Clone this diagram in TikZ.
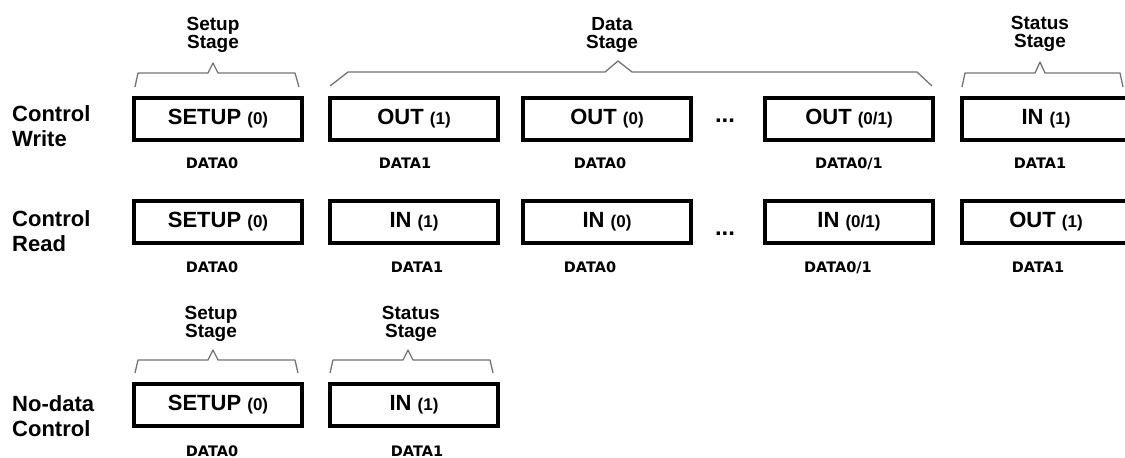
\documentclass[tikz,border=0pt]{standalone}
\usepackage{fontspec}
\setmainfont{Liberation Sans}
\newfontfamily\datafont{DejaVu Sans}
\usetikzlibrary{positioning}
\newcommand{\pid}[2]{\fontsize{22}{22}\selectfont #1 {\fontsize{17}{17}\selectfont (#2)}}

\begin{document}
\begin{tikzpicture}[x=1pt,y=-1pt,font=\bfseries,
  pkt/.style={draw,line width=4.5pt,minimum width=168,minimum height=42,inner sep=0pt},
  toggle/.style={inner sep=0pt,text height=10.5pt,text depth=0pt,font=\datafont\bfseries\fontsize{14.5}{15}\selectfont},
  rowlbl/.style={anchor=west,align=left,inner sep=0pt,font=\bfseries\fontsize{22}{25}\selectfont},
  stagelbl/.style={align=center,inner sep=0pt,font=\bfseries\fontsize{19}{18}\selectfont},
  brc/.style={draw=black!55,line width=1.3pt,line join=round}]
  \useasboundingbox (0,0) rectangle (1125,458);
  % transfer types
  \node[rowlbl] (wr) at (12,126) {Control\\Write};
  \node[rowlbl] (rd) at (12,231) {Control\\Read};
  \node[rowlbl] (nd) at (12,416) {No-data\\Control};
  % packets: box x / pid / toggle / data label / label x
  \foreach \x/\p/\n/\d/\dx [count=\i] in {218/SETUP/0/DATA0/212, 414/OUT/1/DATA1/405, 607/OUT/0/DATA0/600, 849/OUT/{0/1}/{DATA0/1}/849, 1046/IN/1/DATA1/1040} { \node[pkt] (w\i) at (\x,119) {\pid{\p}{\n}}; \node[toggle] (dw\i) at (\dx,163) {\d}; }
  \foreach \x/\p/\n/\d/\dx [count=\i] in {218/SETUP/0/DATA0/212, 414/IN/1/DATA1/417, 607/IN/0/DATA0/590, 849/IN/{0/1}/{DATA0/1}/838, 1046/OUT/1/DATA1/1038} { \node[pkt] (r\i) at (\x,222) {\pid{\p}{\n}}; \node[toggle] (dr\i) at (\dx,267) {\d}; }
  \foreach \x/\p/\n/\d/\dx [count=\i] in {218/SETUP/0/DATA0/212, 414/IN/1/DATA1/417} { \node[pkt] (n\i) at (\x,405) {\pid{\p}{\n}}; \node[toggle] (dn\i) at (\dx,451) {\d}; }
  \node[font=\bfseries\fontsize{24}{24}\selectfont] (wdots) at (725,121) {...};
  \node[font=\bfseries\fontsize{24}{24}\selectfont] (rdots) at (725,234) {...};
  % stage braces
  \draw[brc] (135,87) -- (138,73) -- (208,73) -- (213,63) -- (218,73) -- (295,73) -- (299,87);
  \draw[brc] (330,86) -- (348,72) -- (605,72) -- (618,61) -- (632,72) -- (917,72) -- (932,86);
  \draw[brc] (962,87) -- (965,73) -- (1035,73) -- (1040,62) -- (1045,73) -- (1120,73) -- (1123,87);
  \draw[brc] (135,373) -- (138,360) -- (208,360) -- (213,350) -- (218,360) -- (295,360) -- (298,373);
  \draw[brc] (330,373) -- (333,360) -- (403,360) -- (408,350) -- (413,360) -- (490,360) -- (493,373);
  \node[stagelbl] (ws) at (213,35) {Setup\\Stage};
  \node[stagelbl] (wd) at (612,35) {Data\\Stage};
  \node[stagelbl] (wt) at (1040,34) {Status\\Stage};
  \node[stagelbl] (ns) at (211,324) {Setup\\Stage};
  \node[stagelbl] (nt) at (411,324) {Status\\Stage};
\end{tikzpicture}
\end{document}
